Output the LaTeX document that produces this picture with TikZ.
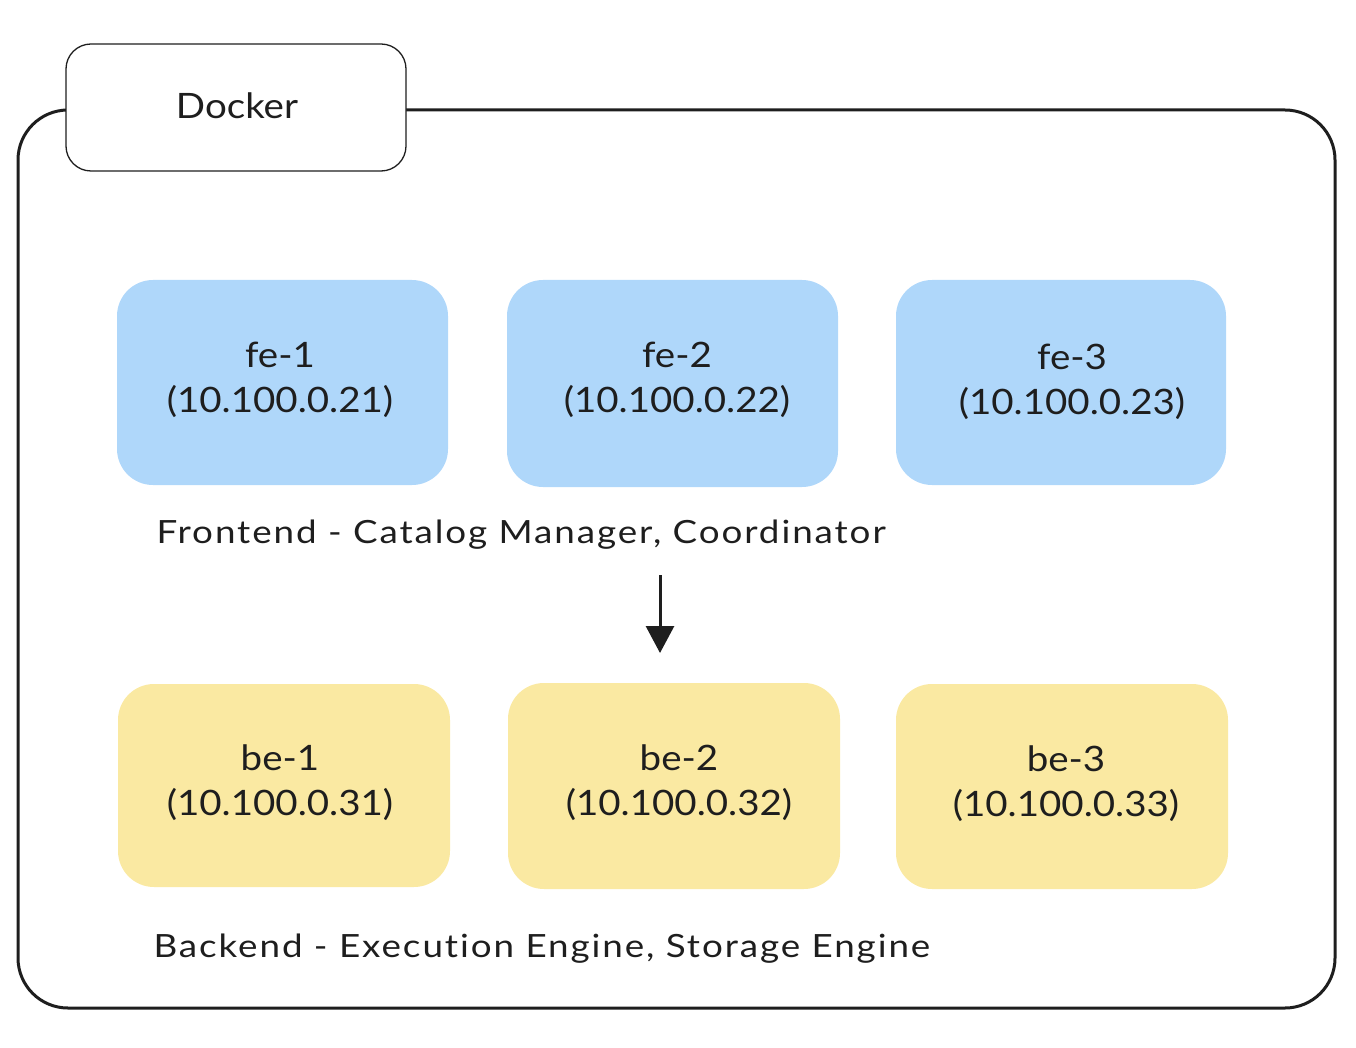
\documentclass[tikz,border=0pt]{standalone}
\usepackage{fontspec}
\setmainfont{Lato}[FakeStretch=1.1]
\newfontfamily\capfont{Lato}[FakeStretch=1.15,LetterSpace=6,Ligatures=NoCommon]
\usetikzlibrary{arrows.meta}
\definecolor{feblue}{HTML}{AFD7FA}
\definecolor{beyellow}{HTML}{FAE9A2}
\definecolor{inkc}{HTML}{1E1E1E}
\begin{document}
\begin{tikzpicture}[x=1pt,y=-1pt,
  container/.style={draw=inkc,line width=3pt,rounded corners=50pt},
  tagbox/.style={draw=inkc,line width=1.3pt,fill=white,rounded corners=25pt},
  febox/.style={fill=feblue,rounded corners=36pt},
  bebox/.style={fill=beyellow,rounded corners=36pt},
  boxtext/.style={text=inkc,align=center,font=\fontsize{35}{45}\selectfont},
  caption/.style={text=inkc,anchor=west,font=\capfont\fontsize{32}{36}\selectfont},
  flow/.style={draw=inkc,line width=3pt,-{Triangle[length=27pt,width=28pt]}}]
\useasboundingbox (0,0) rectangle (1356,1048);
% outer container
\draw[container] (18,110) rectangle (1335,1008);
% Docker tag
\draw[tagbox] (66,44) rectangle (406,171);
\node[text=inkc,font=\fontsize{35}{40}\selectfont] (docker) at (237,106) {Docker};
% frontend boxes
\fill[febox] (117,280) rectangle (448,485);
\fill[febox] (507,280) rectangle (838,487);
\fill[febox] (896,280) rectangle (1226,485);
\node[boxtext] (fe1) at (280,380) {fe-1\\(10.100.0.21)};
\node[boxtext] (fe2) at (677,380) {fe-2\\(10.100.0.22)};
\node[boxtext] (fe3) at (1072,382) {fe-3\\(10.100.0.23)};
% backend boxes
\fill[bebox] (118,684) rectangle (450,887);
\fill[bebox] (508,683) rectangle (840,889);
\fill[bebox] (896,684) rectangle (1228,889);
\node[boxtext] (be1) at (280,783) {be-1\\(10.100.0.31)};
\node[boxtext] (be2) at (679,783) {be-2\\(10.100.0.32)};
\node[boxtext] (be3) at (1066,784) {be-3\\(10.100.0.33)};
% captions
\node[caption] (fecap) at (153,535) {Frontend - Catalog Manager, Coordinator};
\node[caption] (becap) at (150,949) {Backend - Execution Engine, Storage Engine};
% arrow
\coordinate (arrowtop) at (660,575);
\coordinate (arrowbot) at (660,653);
\draw[flow] (arrowtop) -- (arrowbot);
\end{tikzpicture}
\end{document}
